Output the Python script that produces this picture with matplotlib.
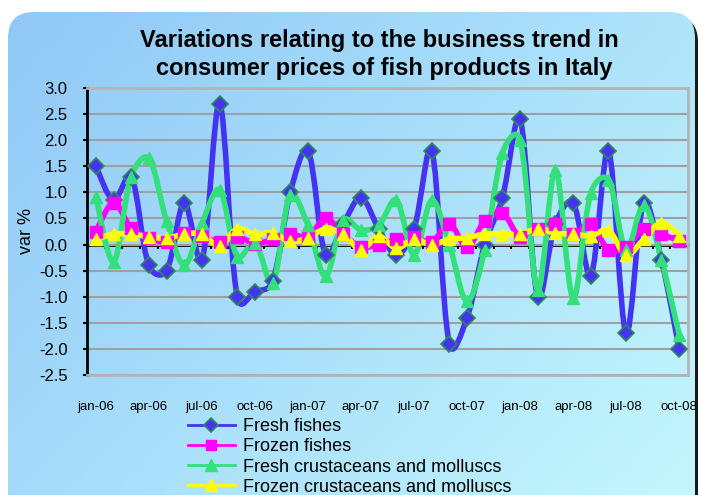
import numpy as np
import matplotlib.pyplot as plt
from matplotlib.path import Path
from matplotlib.patches import PathPatch, FancyBboxPatch
from matplotlib.lines import Line2D
from matplotlib.ticker import NullFormatter

# Data (var %), monthly jan-06 .. oct-08
months = ['jan-06', 'feb-06', 'mar-06', 'apr-06', 'may-06', 'jun-06', 'jul-06', 'aug-06',
          'sep-06', 'oct-06', 'nov-06', 'dec-06', 'jan-07', 'feb-07', 'mar-07', 'apr-07',
          'may-07', 'jun-07', 'jul-07', 'aug-07', 'sep-07', 'oct-07', 'nov-07', 'dec-07',
          'jan-08', 'feb-08', 'mar-08', 'apr-08', 'may-08', 'jun-08', 'jul-08', 'aug-08',
          'sep-08', 'oct-08']
fresh_fishes = [1.5, 0.85, 1.3, -0.4, -0.5, 0.8, -0.3, 2.7, -1.0, -0.9, -0.7, 1.0,
                1.8, -0.2, 0.4, 0.9, 0.3, -0.2, 0.3, 1.8, -1.9, -1.4, 0.0, 0.9,
                2.4, -1.0, 0.4, 0.8, -0.6, 1.8, -1.7, 0.8, -0.3, -2.0]
frozen_fishes = [0.25, 0.8, 0.32, 0.13, 0.05, 0.23, 0.16, 0.05, 0.15, 0.02, 0.1, 0.2,
                 0.15, 0.5, 0.2, -0.05, 0.0, 0.1, 0.15, 0.05, 0.4, -0.05, 0.45, 0.6,
                 0.15, 0.3, 0.4, 0.2, 0.4, -0.1, -0.05, 0.3, 0.2, 0.07]
fresh_crust = [0.92, -0.33, 1.3, 1.65, 0.45, -0.39, 0.41, 1.05, -0.23, 0.03, -0.74, 0.95,
               0.37, -0.61, 0.47, 0.28, 0.37, 0.85, -0.2, 0.85, 0.0, -1.09, -0.1, 1.75,
               2.0, -0.87, 1.43, -1.03, 0.98, 1.24, -0.1, 0.76, -0.3, -1.73]
frozen_crust = [0.1, 0.2, 0.2, 0.15, 0.12, 0.2, 0.2, -0.03, 0.3, 0.2, 0.22, 0.06,
                0.13, 0.3, 0.2, -0.1, 0.16, -0.07, 0.1, 0.0, 0.1, 0.13, 0.2, 0.2,
                0.2, 0.3, 0.22, 0.2, 0.17, 0.27, -0.2, 0.1, 0.42, 0.17]
labels = ['Fresh fishes', 'Frozen fishes', 'Fresh crustaceans and molluscs',
          'Frozen crustaceans and molluscs']

W, H = 701, 495
fig = plt.figure(figsize=(W / 100, H / 100), dpi=100)
fig.patch.set_facecolor('white')

# rounded gradient panel behind everything
bg = fig.add_axes([0, 0, 1, 1])
bg.set_xlim(0, W)
bg.set_ylim(H, 0)
bg.axis('off')
shadow = FancyBboxPatch((12, 16), 686, 520, boxstyle='round,pad=0,rounding_size=26',
                        facecolor='#1a1a1a', edgecolor='none')
bg.add_patch(shadow)
panel = FancyBboxPatch((8, 12), 687, 520, boxstyle='round,pad=0,rounding_size=26',
                       facecolor='none', edgecolor='none')
bg.add_patch(panel)
gx, gy = np.meshgrid(np.linspace(0, 1, 200), np.linspace(0, 1, 150))
t = (gx * 0.6 + gy * 0.4)[..., None]
c0 = np.array([0.56, 0.78, 0.97])
c1 = np.array([0.77, 0.97, 0.99])
img = bg.imshow(c0 + (c1 - c0) * t, extent=(0, W, H, 0), aspect='auto', zorder=1)
img.set_clip_path(panel)

fig.text(0.541, 1 - 41 / H, 'Variations relating to the business trend in',
         ha='center', va='center', fontsize=17, fontweight='bold', family='Liberation Sans')
fig.text(0.548, 1 - 68 / H, 'consumer prices of fish products in Italy',
         ha='center', va='center', fontsize=17, fontweight='bold', family='Liberation Sans')

ax = fig.add_axes([87 / W, 120 / H, 601 / W, 287 / H])
ax.patch.set_alpha(0)
x = np.arange(len(months))

# aspect of one category vs one y unit on screen, used to weight the smoothing
YSCALE = (287 / 5.5) / (601 / len(months))


def smooth_line(ax, xs, ys, color, lw):
    # Excel-style smoothed line: Bezier segments through the data points
    pts = np.column_stack([xs, ys]).astype(float)
    scr = pts * [1, YSCALE]
    n = len(pts)
    verts = [pts[0]]
    codes = [Path.MOVETO]

    def dist(a, b):
        return np.hypot(*(scr[a] - scr[b]))

    for i in range(n - 1):
        i0, i3 = max(i - 1, 0), min(i + 2, n - 1)
        d01, d12, d23 = dist(i0, i), dist(i, i + 1), dist(i + 1, i3)
        f1 = d12 / (d01 + d12) / 3 if i > 0 else 1 / 6
        f2 = d12 / (d12 + d23) / 3 if i + 1 < n - 1 else 1 / 6
        f1 = 0.5 * f1 + 0.5 / 6
        f2 = 0.5 * f2 + 0.5 / 6
        c1_ = pts[i] + (pts[i + 1] - pts[i0]) * f1
        c2_ = pts[i + 1] - (pts[i3] - pts[i]) * f2
        verts += [c1_, c2_, pts[i + 1]]
        codes += [Path.CURVE4] * 3
    ax.add_patch(PathPatch(Path(verts, codes), facecolor='none', edgecolor=color,
                           lw=lw, joinstyle='round', capstyle='round', zorder=3))


series = [
    (fresh_fishes, '#4433f0', dict(marker='D', ms=8, mfc='#4433f0', mec='#2e8b57', mew=1.2)),
    (frozen_fishes, '#ff00ff', dict(marker='s', ms=8, mfc='#ff00ff', mec='#ff00ff')),
    (fresh_crust, '#33e07a', dict(marker='^', ms=9, mfc='#33e07a', mec='#33e07a')),
    (frozen_crust, '#ffff00', dict(marker='^', ms=9, mfc='#ffff00', mec='#ffff00')),
]
for vals, col, mk in series:
    smooth_line(ax, x, vals, col, 4)
    ax.plot(x, vals, linestyle='none', zorder=4, **mk)

ax.set_xlim(-0.5, len(months) - 0.5)
ax.set_ylim(-2.5, 3.0)
ax.set_yticks(np.arange(-2.5, 3.01, 0.5))
ax.set_yticklabels([f'{v:.1f}' for v in np.arange(-2.5, 3.01, 0.5)])
ax.yaxis.grid(True, color='#a0a0a0', lw=1.5)
ax.set_axisbelow(True)
ax.tick_params(axis='y', length=3, width=1.5, color='black', pad=11,
               labelsize=12, labelfontfamily='Liberation Sans')
ax.set_ylabel('var %', fontsize=13, family='Liberation Sans', labelpad=3)

ax.set_xticks(x[::3])
ax.set_xticklabels(months[::3])
ax.tick_params(axis='x', length=0, pad=19, labelsize=9.5, labelfontfamily='Liberation Sans')

for s in ['top', 'right', 'bottom']:
    ax.spines[s].set_color('#b4b4b4')
    ax.spines[s].set_linewidth(2)
ax.spines['left'].set_color('black')
ax.spines['left'].set_linewidth(2)

# category axis crossing at zero
zero = ax.secondary_xaxis((0 - (-2.5)) / 5.5)
zero.xaxis.set_ticks_position('bottom')
zero.set_xticks(np.arange(-0.5, len(months), 1))
zero.xaxis.set_major_formatter(NullFormatter())
zero.tick_params(length=3, width=1.5, direction='out', color='black')
zero.spines['bottom'].set_color('black')
zero.spines['bottom'].set_linewidth(2)

handles = [Line2D([], [], color=col, lw=2, **dict(mk, ms=mk['ms'] - 1)) for _, col, mk in series]
fig.legend(handles, labels, loc='upper left', bbox_to_anchor=(188 / W, 1 - 418 / H),
           frameon=False, handlelength=2.6, handletextpad=0.45,
           labelspacing=0.18, borderpad=0, borderaxespad=0,
           prop={'family': 'Liberation Sans', 'size': 13})

fig.savefig('out.png', dpi=100)
